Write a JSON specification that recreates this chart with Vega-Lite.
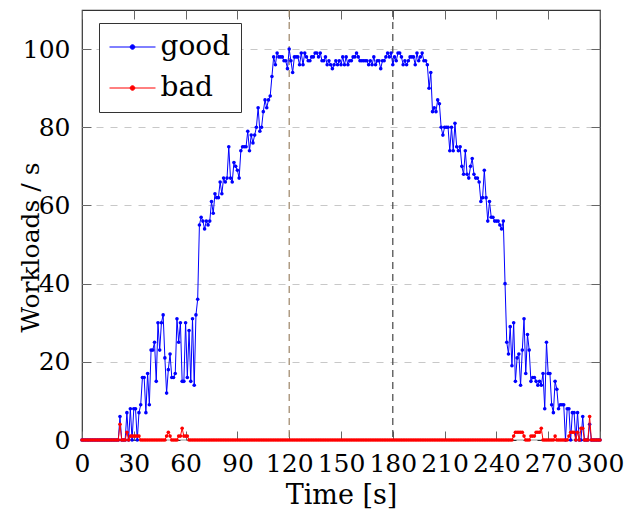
{
  "$schema": "https://vega.github.io/schema/vega-lite/v6.json",
  "width": 518,
  "height": 430,
  "autosize": {"type": "none"},
  "padding": {"left": 82, "top": 10, "right": 26, "bottom": 80},
  "background": "white",
  "config": {
    "font": "DejaVu Serif",
    "view": {"stroke": "#333333", "strokeWidth": 1.2},
    "axis": {
      "labelFont": "DejaVu Serif",
      "titleFont": "DejaVu Serif",
      "labelFontSize": 25,
      "titleFontSize": 27,
      "labelColor": "black",
      "titleColor": "black",
      "titleFontWeight": "normal",
      "domain": false,
      "tickColor": "#666666",
      "tickSize": -9,
      "labelOverlap": false,
      "labelFlush": false
    }
  },
  "data": {
    "values": [
      {"t":0,"good":0,"bad":0},{"t":1,"good":0,"bad":0},{"t":2,"good":0,"bad":0},{"t":3,"good":0,"bad":0},{"t":4,"good":0,"bad":0},
      {"t":5,"good":0,"bad":0},{"t":6,"good":0,"bad":0},{"t":7,"good":0,"bad":0},{"t":8,"good":0,"bad":0},{"t":9,"good":0,"bad":0},
      {"t":10,"good":0,"bad":0},{"t":11,"good":0,"bad":0},{"t":12,"good":0,"bad":0},{"t":13,"good":0,"bad":0},{"t":14,"good":0,"bad":0},
      {"t":15,"good":0,"bad":0},{"t":16,"good":0,"bad":0},{"t":17,"good":0,"bad":0},{"t":18,"good":0,"bad":0},{"t":19,"good":0,"bad":0},
      {"t":20,"good":0,"bad":0},{"t":21,"good":0,"bad":0},{"t":22,"good":6,"bad":4},{"t":23,"good":0,"bad":0},{"t":24,"good":0,"bad":0},
      {"t":25,"good":0,"bad":0},{"t":26,"good":7,"bad":2},{"t":27,"good":0,"bad":0},{"t":28,"good":8,"bad":1},{"t":29,"good":0,"bad":1},
      {"t":30,"good":8,"bad":1},{"t":31,"good":8,"bad":1},{"t":32,"good":0,"bad":1},{"t":33,"good":7,"bad":1},{"t":34,"good":9,"bad":0},
      {"t":35,"good":16,"bad":0},{"t":36,"good":16,"bad":0},{"t":37,"good":7,"bad":0},{"t":38,"good":17,"bad":0},{"t":39,"good":9,"bad":0},
      {"t":40,"good":23,"bad":0},{"t":41,"good":23,"bad":0},{"t":42,"good":25,"bad":0},{"t":43,"good":15,"bad":0},{"t":44,"good":30,"bad":0},
      {"t":45,"good":23,"bad":0},{"t":46,"good":30,"bad":0},{"t":47,"good":32,"bad":0},{"t":48,"good":21,"bad":0},{"t":49,"good":12,"bad":1},
      {"t":50,"good":18,"bad":2},{"t":51,"good":22,"bad":1},{"t":52,"good":16,"bad":0},{"t":53,"good":16,"bad":0},{"t":54,"good":17,"bad":0},
      {"t":55,"good":31,"bad":0},{"t":56,"good":25,"bad":1},{"t":57,"good":30,"bad":1},{"t":58,"good":15,"bad":3},{"t":59,"good":15,"bad":1},
      {"t":60,"good":30,"bad":1},{"t":61,"good":16,"bad":1},{"t":62,"good":28,"bad":0},{"t":63,"good":15,"bad":0},{"t":64,"good":31,"bad":0},
      {"t":65,"good":14,"bad":0},{"t":66,"good":32,"bad":0},{"t":67,"good":36,"bad":0},{"t":68,"good":55,"bad":0},{"t":69,"good":57,"bad":0},
      {"t":70,"good":56,"bad":0},{"t":71,"good":54,"bad":0},{"t":72,"good":56,"bad":0},{"t":73,"good":55,"bad":0},{"t":74,"good":56,"bad":0},
      {"t":75,"good":61,"bad":0},{"t":76,"good":58,"bad":0},{"t":77,"good":63,"bad":0},{"t":78,"good":62,"bad":0},{"t":79,"good":62,"bad":0},
      {"t":80,"good":66,"bad":0},{"t":81,"good":63,"bad":0},{"t":82,"good":67,"bad":0},{"t":83,"good":66,"bad":0},{"t":84,"good":67,"bad":0},
      {"t":85,"good":75,"bad":0},{"t":86,"good":67,"bad":0},{"t":87,"good":66,"bad":0},{"t":88,"good":71,"bad":0},{"t":89,"good":70,"bad":0},
      {"t":90,"good":69,"bad":0},{"t":91,"good":67,"bad":0},{"t":92,"good":74,"bad":0},{"t":93,"good":75,"bad":0},{"t":94,"good":75,"bad":0},
      {"t":95,"good":75,"bad":0},{"t":96,"good":79,"bad":0},{"t":97,"good":74,"bad":0},{"t":98,"good":78,"bad":0},{"t":99,"good":76,"bad":0},
      {"t":100,"good":78,"bad":0},{"t":101,"good":80,"bad":0},{"t":102,"good":85,"bad":0},{"t":103,"good":79,"bad":0},{"t":104,"good":80,"bad":0},
      {"t":105,"good":84,"bad":0},{"t":106,"good":87,"bad":0},{"t":107,"good":85,"bad":0},{"t":108,"good":87,"bad":0},{"t":109,"good":88,"bad":0},
      {"t":110,"good":93,"bad":0},{"t":111,"good":98,"bad":0},{"t":112,"good":96,"bad":0},{"t":113,"good":99,"bad":0},{"t":114,"good":98,"bad":0},
      {"t":115,"good":98,"bad":0},{"t":116,"good":98,"bad":0},{"t":117,"good":97,"bad":0},{"t":118,"good":97,"bad":0},{"t":119,"good":95,"bad":0},
      {"t":120,"good":100,"bad":0},{"t":121,"good":97,"bad":0},{"t":122,"good":94,"bad":0},{"t":123,"good":98,"bad":0},{"t":124,"good":98,"bad":0},
      {"t":125,"good":98,"bad":0},{"t":126,"good":96,"bad":0},{"t":127,"good":99,"bad":0},{"t":128,"good":96,"bad":0},{"t":129,"good":99,"bad":0},
      {"t":130,"good":98,"bad":0},{"t":131,"good":97,"bad":0},{"t":132,"good":97,"bad":0},{"t":133,"good":98,"bad":0},{"t":134,"good":98,"bad":0},
      {"t":135,"good":99,"bad":0},{"t":136,"good":99,"bad":0},{"t":137,"good":98,"bad":0},{"t":138,"good":99,"bad":0},{"t":139,"good":97,"bad":0},
      {"t":140,"good":97,"bad":0},{"t":141,"good":98,"bad":0},{"t":142,"good":96,"bad":0},{"t":143,"good":97,"bad":0},{"t":144,"good":96,"bad":0},
      {"t":145,"good":95,"bad":0},{"t":146,"good":96,"bad":0},{"t":147,"good":97,"bad":0},{"t":148,"good":96,"bad":0},{"t":149,"good":97,"bad":0},
      {"t":150,"good":96,"bad":0},{"t":151,"good":98,"bad":0},{"t":152,"good":96,"bad":0},{"t":153,"good":98,"bad":0},{"t":154,"good":96,"bad":0},
      {"t":155,"good":97,"bad":0},{"t":156,"good":97,"bad":0},{"t":157,"good":98,"bad":0},{"t":158,"good":98,"bad":0},{"t":159,"good":99,"bad":0},
      {"t":160,"good":98,"bad":0},{"t":161,"good":97,"bad":0},{"t":162,"good":97,"bad":0},{"t":163,"good":97,"bad":0},{"t":164,"good":97,"bad":0},
      {"t":165,"good":97,"bad":0},{"t":166,"good":96,"bad":0},{"t":167,"good":97,"bad":0},{"t":168,"good":96,"bad":0},{"t":169,"good":98,"bad":0},
      {"t":170,"good":96,"bad":0},{"t":171,"good":97,"bad":0},{"t":172,"good":97,"bad":0},{"t":173,"good":95,"bad":0},{"t":174,"good":97,"bad":0},
      {"t":175,"good":97,"bad":0},{"t":176,"good":98,"bad":0},{"t":177,"good":99,"bad":0},{"t":178,"good":98,"bad":0},{"t":179,"good":99,"bad":0},
      {"t":180,"good":96,"bad":0},{"t":181,"good":98,"bad":0},{"t":182,"good":97,"bad":0},{"t":183,"good":99,"bad":0},{"t":184,"good":99,"bad":0},
      {"t":185,"good":98,"bad":0},{"t":186,"good":96,"bad":0},{"t":187,"good":97,"bad":0},{"t":188,"good":96,"bad":0},{"t":189,"good":97,"bad":0},
      {"t":190,"good":98,"bad":0},{"t":191,"good":98,"bad":0},{"t":192,"good":98,"bad":0},{"t":193,"good":96,"bad":0},{"t":194,"good":99,"bad":0},
      {"t":195,"good":97,"bad":0},{"t":196,"good":98,"bad":0},{"t":197,"good":99,"bad":0},{"t":198,"good":97,"bad":0},{"t":199,"good":97,"bad":0},
      {"t":200,"good":96,"bad":0},{"t":201,"good":90,"bad":0},{"t":202,"good":94,"bad":0},{"t":203,"good":84,"bad":0},{"t":204,"good":85,"bad":0},
      {"t":205,"good":84,"bad":0},{"t":206,"good":87,"bad":0},{"t":207,"good":86,"bad":0},{"t":208,"good":80,"bad":0},{"t":209,"good":78,"bad":0},
      {"t":210,"good":80,"bad":0},{"t":211,"good":80,"bad":0},{"t":212,"good":80,"bad":0},{"t":213,"good":74,"bad":0},{"t":214,"good":80,"bad":0},
      {"t":215,"good":74,"bad":0},{"t":216,"good":81,"bad":0},{"t":217,"good":75,"bad":0},{"t":218,"good":74,"bad":0},{"t":219,"good":75,"bad":0},
      {"t":220,"good":70,"bad":0},{"t":221,"good":68,"bad":0},{"t":222,"good":74,"bad":0},{"t":223,"good":68,"bad":0},{"t":224,"good":67,"bad":0},
      {"t":225,"good":70,"bad":0},{"t":226,"good":72,"bad":0},{"t":227,"good":68,"bad":0},{"t":228,"good":67,"bad":0},{"t":229,"good":67,"bad":0},
      {"t":230,"good":66,"bad":0},{"t":231,"good":61,"bad":0},{"t":232,"good":62,"bad":0},{"t":233,"good":69,"bad":0},{"t":234,"good":62,"bad":0},
      {"t":235,"good":56,"bad":0},{"t":236,"good":61,"bad":0},{"t":237,"good":57,"bad":0},{"t":238,"good":57,"bad":0},{"t":239,"good":56,"bad":0},
      {"t":240,"good":56,"bad":0},{"t":241,"good":56,"bad":0},{"t":242,"good":55,"bad":0},{"t":243,"good":54,"bad":0},{"t":244,"good":56,"bad":0},
      {"t":245,"good":40,"bad":0},{"t":246,"good":25,"bad":0},{"t":247,"good":22,"bad":0},{"t":248,"good":29,"bad":0},{"t":249,"good":19,"bad":0},
      {"t":250,"good":30,"bad":1},{"t":251,"good":15,"bad":2},{"t":252,"good":21,"bad":2},{"t":253,"good":22,"bad":2},{"t":254,"good":14,"bad":2},
      {"t":255,"good":23,"bad":2},{"t":256,"good":31,"bad":1},{"t":257,"good":17,"bad":0},{"t":258,"good":27,"bad":0},{"t":259,"good":23,"bad":0},
      {"t":260,"good":15,"bad":1},{"t":261,"good":16,"bad":1},{"t":262,"good":16,"bad":1},{"t":263,"good":15,"bad":2},{"t":264,"good":14,"bad":2},
      {"t":265,"good":15,"bad":2},{"t":266,"good":14,"bad":3},{"t":267,"good":17,"bad":0},{"t":268,"good":8,"bad":0},{"t":269,"good":25,"bad":0},
      {"t":270,"good":17,"bad":0},{"t":271,"good":17,"bad":0},{"t":272,"good":9,"bad":0},{"t":273,"good":7,"bad":0},{"t":274,"good":15,"bad":1},
      {"t":275,"good":13,"bad":0},{"t":276,"good":8,"bad":0},{"t":277,"good":9,"bad":0},{"t":278,"good":9,"bad":0},{"t":279,"good":9,"bad":0},
      {"t":280,"good":0,"bad":0},{"t":281,"good":8,"bad":0},{"t":282,"good":8,"bad":1},{"t":283,"good":0,"bad":2},{"t":284,"good":7,"bad":2},
      {"t":285,"good":7,"bad":2},{"t":286,"good":0,"bad":0},{"t":287,"good":7,"bad":2},{"t":288,"good":0,"bad":0},{"t":289,"good":0,"bad":3},
      {"t":290,"good":6,"bad":3},{"t":291,"good":0,"bad":0},{"t":292,"good":0,"bad":0},{"t":293,"good":0,"bad":0},{"t":294,"good":4,"bad":6},
      {"t":295,"good":0,"bad":0},{"t":296,"good":0,"bad":0},{"t":297,"good":0,"bad":0},{"t":298,"good":0,"bad":0},{"t":299,"good":0,"bad":0},
      {"t":300,"good":0,"bad":0}
    ]
  },
  "layer": [
    {
      "data": {"values": [{}]},
      "mark": {"type": "rule", "color": "#9c8466", "strokeWidth": 1.2, "strokeDash": [7, 5]},
      "encoding": {"x": {"datum": 120, "type": "quantitative", "scale": {"domain": [0, 300], "nice": false}, "axis": null}}
    },
    {
      "data": {"values": [{}]},
      "mark": {"type": "rule", "color": "#444444", "strokeWidth": 1.2, "strokeDash": [7, 5]},
      "encoding": {"x": {"datum": 180, "type": "quantitative", "axis": null}}
    },
    {
      "mark": {"type": "line", "strokeWidth": 1, "point": {"filled": true, "size": 13}},
      "encoding": {
        "x": {
          "field": "t", "type": "quantitative",
          "scale": {"domain": [0, 300], "nice": false},
          "axis": {
            "orient": "bottom",
            "values": [0, 30, 60, 90, 120, 150, 180, 210, 240, 270, 300],
            "title": "Time [s]",
            "grid": false,
            "labelPadding": 20,
            "titlePadding": 6
          }
        },
        "y": {
          "field": "good", "type": "quantitative",
          "scale": {"domain": [0, 110], "nice": false},
          "axis": {
            "orient": "left",
            "values": [0, 20, 40, 60, 80, 100],
            "title": "Workloads / s",
            "titleFontSize": 25,
            "grid": true,
            "gridColor": "#c8c8c8",
            "gridDash": [7, 7],
            "gridWidth": 1.2,
            "labelPadding": 21,
            "titleX": -44,
            "titleY": 237,
            "titleAngle": -90,
            "titleAlign": "center",
            "titleBaseline": "alphabetic"
          }
        },
        "color": {
          "datum": "good", "type": "nominal",
          "scale": {"domain": ["good", "bad"], "range": ["#0000ff", "#ff0000"]},
          "legend": {
            "orient": "none",
            "legendX": 17,
            "legendY": 13,
            "title": null,
            "fillColor": "white",
            "strokeColor": "#333333",
            "padding": 10,
            "cornerRadius": 0,
            "labelFont": "DejaVu Serif",
            "labelFontSize": 28,
            "labelColor": "black",
            "labelBaseline": "middle",
            "symbolType": "M-2,0H2M-0.2,0A0.2,0.2 0 1,1 0.2,0A0.2,0.2 0 1,1 -0.2,0Z",
            "symbolSize": 529,
            "symbolStrokeWidth": 1,
            "symbolOffset": 9.5,
            "labelOffset": 14,
            "rowPadding": 13,
            "encode": {"symbols": {"update": {"fill": {"scale": "color", "field": "value"}}}}
          }
        }
      }
    },
    {
      "mark": {"type": "line", "strokeWidth": 1, "point": {"filled": true, "size": 13}},
      "encoding": {
        "x": {
          "field": "t", "type": "quantitative",
          "scale": {"domain": [0, 300], "nice": false},
          "axis": {"orient": "top", "values": [0, 30, 60, 90, 120, 150, 180, 210, 240, 270, 300], "labels": false, "title": null, "grid": false}
        },
        "y": {
          "field": "bad", "type": "quantitative",
          "scale": {"domain": [0, 110], "nice": false},
          "axis": {"orient": "right", "values": [0, 20, 40, 60, 80, 100], "labels": false, "title": null, "grid": false}
        },
        "color": {"datum": "bad", "type": "nominal"}
      }
    }
  ],
  "resolve": {"axis": {"x": "independent", "y": "independent"}}
}
